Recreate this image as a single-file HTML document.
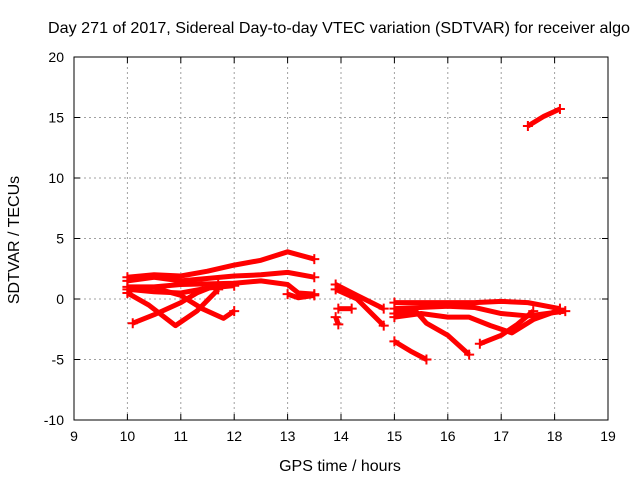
<!DOCTYPE html>
<html><head><meta charset="utf-8"><style>
body{margin:0;background:#fff}
svg{display:block;font-family:"Liberation Sans",sans-serif;font-size:14px}
</style></head><body>
<svg id="chart" width="640" height="480">
<rect width="640" height="480" fill="#fff"/>
<text x="339" y="33" text-anchor="middle" font-size="16" textLength="582" lengthAdjust="spacingAndGlyphs">Day 271 of 2017, Sidereal Day-to-day VTEC variation (SDTVAR) for receiver algo</text>
<g id="grid"></g>
<g id="ticks"></g>
<g id="series"></g>
<rect x="74" y="57" width="534" height="363" fill="none" stroke="#000"/>
<text x="340" y="471" text-anchor="middle" font-size="16">GPS time / hours</text>
<text transform="translate(19,240) rotate(-90)" text-anchor="middle" font-size="16">SDTVAR / TECUs</text>
</svg>
<script>
const xTicks=[9,10,11,12,13,14,15,16,17,18,19];
const yTicks=[-10,-5,0,5,10,15,20];
const tracks=[
[[10.0,1.8],[10.5,2.0],[11,1.9],[11.5,2.3],[12,2.8],[12.5,3.2],[13,3.9],[13.5,3.3]],
[[10.0,1.5],[10.5,1.8],[11,1.5],[12,1.9],[12.5,2.0],[13,2.2],[13.5,1.8]],
[[10.0,1.0],[10.5,1.0],[11,1.2],[12,1.3],[12.5,1.5],[13,1.2],[13.2,0.5],[13.5,0.4]],
[[10.0,0.8],[10.5,0.6],[11,0.5],[11.5,0.9],[12,1.1]],
[[10.1,-2.0],[10.5,-1.3],[11.0,-0.3],[11.3,0.5],[11.7,1.2]],
[[10.0,0.5],[10.4,-0.5],[10.9,-2.2],[11.3,-1.0],[11.7,0.8]],
[[10.6,0.8],[11.0,0.3],[11.4,-0.8],[11.8,-1.6],[12.0,-1.0]],
[[13.0,0.4],[13.2,0.1],[13.5,0.3]],
[[13.9,1.2],[14.3,0.3],[14.8,-0.8]],
[[13.9,0.8],[14.3,0.0],[14.8,-2.2]],
[[13.95,-0.8],[14.2,-0.8]],
[[13.9,-1.5],[13.95,-2.1]],
[[15.0,-0.3],[15.6,-0.3],[16,-0.3],[16.5,-0.3],[17,-0.2],[17.5,-0.3],[18.1,-0.8]],
[[15.0,-0.8],[16,-0.6],[16.5,-0.7],[17,-1.2],[17.5,-1.4],[18.2,-1.0]],
[[15,-1.5],[15.5,-1.2],[16,-1.5],[16.4,-1.5],[16.8,-2.2],[17.2,-2.8],[17.6,-1.7],[18.1,-0.9]],
[[15.0,-1.2],[15.4,-1.0],[15.6,-2.0],[16.0,-3.0],[16.4,-4.6]],
[[16.6,-3.7],[17,-3.0],[17.3,-2.1],[17.6,-1.0]],
[[15.0,-3.5],[15.3,-4.3],[15.6,-5.0]],
[[17.5,14.3],[17.8,15.1],[18.1,15.7]]
];
const NS="http://www.w3.org/2000/svg";
const X=v=>74+(v-9)*53.4;
const Y=v=>299-v*12.1;
const grid=document.getElementById('grid'),ticks=document.getElementById('ticks'),ser=document.getElementById('series');
function mk(t,a,p){const e=document.createElementNS(NS,t);for(const k in a)e.setAttribute(k,a[k]);p.appendChild(e);return e;}
xTicks.forEach(v=>{
 if(v>9&&v<19){const g=mk('line',{x1:X(v),x2:X(v),y1:57,y2:420,stroke:'#a0a0a0','stroke-dasharray':'2,3'},grid);
 
 }
 mk('line',{x1:X(v),x2:X(v),y1:420,y2:414,stroke:'#000'},ticks);
 mk('line',{x1:X(v),x2:X(v),y1:57,y2:63,stroke:'#000'},ticks);
 const t=mk('text',{x:X(v),y:441,'text-anchor':'middle'},ticks);t.textContent=v;
 
 
});
yTicks.forEach(v=>{
 if(v>-10&&v<20){const g=mk('line',{x1:74,x2:608,y1:Y(v),y2:Y(v),stroke:'#a0a0a0','stroke-dasharray':'2,3'},grid);
 
 }
 mk('line',{x1:74,x2:80,y1:Y(v),y2:Y(v),stroke:'#000'},ticks);
 mk('line',{x1:608,x2:602,y1:Y(v),y2:Y(v),stroke:'#000'},ticks);
 const t=mk('text',{x:64,y:Y(v)+5,'text-anchor':'end'},ticks);t.textContent=v;
 
 
});
tracks.forEach(tr=>{
 const p=mk('polyline',{points:tr.map(d=>X(d[0])+','+Y(d[1])).join(' '),fill:'none',stroke:'#f00','stroke-width':5,'stroke-linejoin':'round'},ser);
 
 
 [tr[0],tr[tr.length-1]].forEach(d=>{
  mk('path',{d:`M${X(d[0])-5},${Y(d[1])}h10M${X(d[0])},${Y(d[1])-5}v10`,stroke:'#f00','stroke-width':2},ser);
 });
});
</script>
</body></html>
